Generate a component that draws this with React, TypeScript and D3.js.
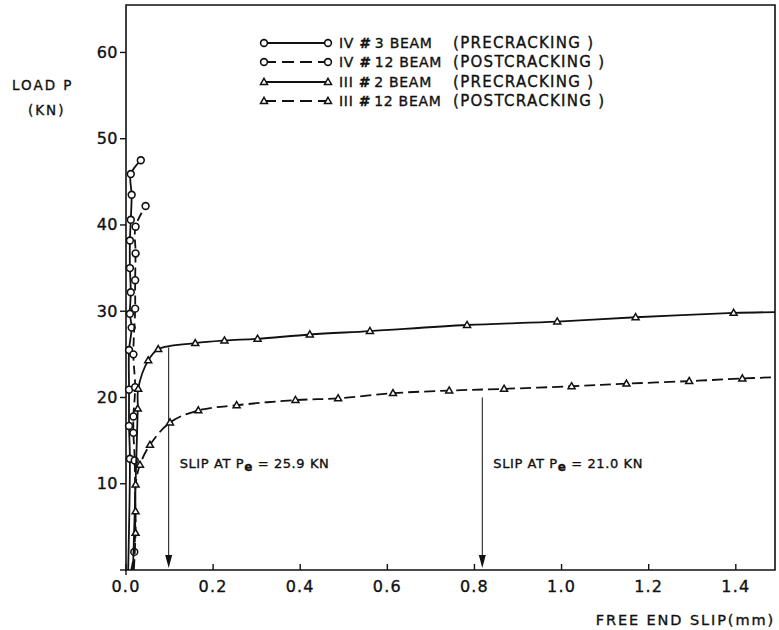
import React from "react";
import * as d3 from "d3";

// ---- data ----
const xTicks = [0, 0.2, 0.4, 0.6, 0.8, 1.0, 1.2, 1.4];
const yTicks = [0, 10, 20, 30, 40, 50, 60];

const iv3Slip = [0.005, 0.009, 0.007, 0.007, 0.007, 0.013, 0.009, 0.011, 0.009, 0.009, 0.011, 0.013, 0.011, 0.034];
const iv3Load = [0, 12.9, 16.7, 20.9, 25.5, 28.1, 29.7, 32.2, 35.0, 38.2, 40.6, 43.5, 45.9, 47.5];

const iv12Slip = [0.012, 0.019, 0.02, 0.017, 0.017, 0.021, 0.017, 0.021, 0.021, 0.022, 0.022, 0.045];
const iv12Load = [0, 2.1, 12.7, 15.9, 17.8, 21.2, 25.0, 30.3, 33.6, 36.7, 39.8, 42.2];

const iii2Slip = [0.016, 0.027, 0.028, 0.051, 0.074, 0.159, 0.226, 0.302, 0.422, 0.56, 0.783, 0.99, 1.17, 1.395, 1.49];
const iii2Load = [0, 18.7, 21.0, 24.3, 25.6, 26.3, 26.6, 26.8, 27.3, 27.7, 28.4, 28.8, 29.3, 29.8, 29.9];

const iii12Slip = [0.018, 0.022, 0.022, 0.022, 0.032, 0.055, 0.101, 0.166, 0.254, 0.389, 0.487, 0.613, 0.742, 0.868, 1.023, 1.149, 1.293, 1.415, 1.49];
const iii12Load = [0, 4.3, 6.8, 9.9, 12.2, 14.5, 17.1, 18.5, 19.1, 19.7, 19.9, 20.5, 20.8, 21.0, 21.3, 21.6, 21.9, 22.2, 22.35];

const legendBeams = ["IV # 3 BEAM", "IV # 12 BEAM", "III # 2 BEAM", "III # 12 BEAM"];
const legendStates = ["(PRECRACKING )", "(POSTCRACKING )", "(PRECRACKING )", "(POSTCRACKING )"];

const arrowSlip = [0.098, 0.818];
const arrowTopLoad = [25.8, 20.0];
const arrowPe = ["25.9", "21.0"];

// ---- layout ----
const W = 779;
const H = 630;
const x = d3.scaleLinear().domain([0, 1.49]).range([126, 775]);
const y = d3.scaleLinear().domain([0, 65.5]).range([570, 5]);

const FONT = "'DejaVu Sans', sans-serif";
const INK = "#111";
const TS = { stroke: INK, strokeWidth: 0.35 } as const;

type Pt = [number, number];
const zip = (a: number[], b: number[]): Pt[] => a.map((v, i) => [v, b[i]]);

const series = [
  { pts: zip(iv3Slip, iv3Load), marker: "circle", dash: null as string | null },
  { pts: zip(iv12Slip, iv12Load), marker: "circle", dash: "9,5" },
  { pts: zip(iii2Slip, iii2Load), marker: "triangle", dash: null },
  { pts: zip(iii12Slip, iii12Load), marker: "triangle", dash: "11,5" },
];

const line = d3
  .line<Pt>()
  .x((d) => x(d[0]))
  .y((d) => y(d[1]))
  .curve(d3.curveCatmullRom.alpha(0.5));

function Marker({ kind, cx, cy }: { kind: string; cx: number; cy: number }) {
  if (kind === "circle") {
    return <circle cx={cx} cy={cy} r={3.4} fill="#fff" stroke={INK} strokeWidth={1.6} />;
  }
  const s = 7;
  const h = s * 0.866;
  const p = `M${cx},${cy - h * 0.6} L${cx + s / 2},${cy + h * 0.4} L${cx - s / 2},${cy + h * 0.4} Z`;
  return <path d={p} fill="#fff" stroke={INK} strokeWidth={1.5} />;
}

function BeamText({ text, xPos, yPos }: { text: string; xPos: number; yPos: number }) {
  const [a, b] = text.split("#");
  return (
    <text x={xPos} y={yPos} fontFamily={FONT} fontSize={14} fill={INK} {...TS} letterSpacing={0.7} dominantBaseline="central">
      <tspan>{a}</tspan>
      <tspan fontWeight="bold" fontStyle="italic">#</tspan>
      <tspan>{b}</tspan>
    </text>
  );
}

export default function App() {
  const legendY = [43, 62, 82, 101];
  return (
    <svg width={W} height={H} style={{ position: "absolute", left: 0, top: 0, background: "#fff" }}>
      <rect x={0} y={0} width={W} height={H} fill="#fff" />
      {/* frame */}
      <path
        d={`M${x(0)},${y(0)} L${x(0)},${y(65.5)} L${x(1.49)},${y(65.5)} L${x(1.49)},${y(0)} Z`}
        fill="none"
        stroke={INK}
        strokeWidth={1.6}
      />
      {/* y ticks */}
      {yTicks.map((t) => (
        <g key={"yt" + t}>
          <line x1={x(0) - 6} x2={x(0)} y1={y(t)} y2={y(t)} stroke={INK} strokeWidth={1.4} />
          {t > 0 && (
            <text
              x={x(0) - 8}
              y={y(t)}
              textAnchor="end"
              dominantBaseline="central"
              fontFamily={FONT}
              fontSize={16}
              fill={INK}
              {...TS}
              letterSpacing={0.5}
            >
              {t}
            </text>
          )}
        </g>
      ))}
      {/* x ticks */}
      {xTicks.map((t) => (
        <g key={"xt" + t}>
          <line x1={x(t)} x2={x(t)} y1={y(0) - 6} y2={y(0) + (t === 0 ? 5 : 0)} stroke={INK} strokeWidth={1.4} />
          <text
            x={x(t)}
            y={y(0) + 16}
            textAnchor="middle"
            dominantBaseline="central"
            fontFamily={FONT}
            fontSize={16}
            fill={INK}
            {...TS}
            letterSpacing={1.2}
          >
            {t.toFixed(1)}
          </text>
        </g>
      ))}
      {/* axis titles */}
      <text x={12} y={85} fontFamily={FONT} fontSize={13.5} fill={INK} {...TS} letterSpacing={2} dominantBaseline="central">
        LOAD P
      </text>
      <text x={28} y={110} fontFamily={FONT} fontSize={13.5} fill={INK} {...TS} letterSpacing={2} dominantBaseline="central">
        (KN)
      </text>
      <text
        x={775}
        y={620}
        textAnchor="end"
        fontFamily={FONT}
        fontSize={14.5}
        fill={INK}
        {...TS}
        letterSpacing={1.9}
        dominantBaseline="central"
      >
        FREE END SLIP(mm)
      </text>

      {/* arrows + annotations */}
      {arrowSlip.map((s, i) => (
        <g key={"ar" + i}>
          <line x1={x(s)} x2={x(s)} y1={y(arrowTopLoad[i])} y2={y(0) - 12} stroke={INK} strokeWidth={1} />
          <path
            d={`M${x(s) - 3.5},${y(0) - 15} L${x(s) + 3.5},${y(0) - 15} L${x(s)},${y(0) - 2} Z`}
            fill={INK}
          />
          <text x={x(s) + 11} y={463} fontFamily={FONT} fontSize={13} fill={INK} {...TS} letterSpacing={0.6} dominantBaseline="central">
            <tspan>SLIP AT P</tspan>
            <tspan fontSize={12} dy={4} fontWeight="bold">e</tspan>
            <tspan dy={-4}>{` = ${arrowPe[i]} KN`}</tspan>
          </text>
        </g>
      ))}

      {/* series */}
      {series.map((s, i) => (
        <g key={"s" + i}>
          <path
            d={line(s.pts) || ""}
            fill="none"
            stroke={INK}
            strokeWidth={1.8}
            strokeDasharray={s.dash || undefined}
          />
          {s.pts
            .filter((p) => p[1] > 0 && p[0] < 1.45)
            .map((p, j) => (
              <Marker key={j} kind={s.marker} cx={x(p[0])} cy={y(p[1])} />
            ))}
        </g>
      ))}

      {/* legend */}
      {legendBeams.map((b, i) => {
        const s = series[i];
        const ly = legendY[i];
        return (
          <g key={"lg" + i}>
            <line
              x1={264}
              x2={328}
              y1={ly}
              y2={ly}
              stroke={INK}
              strokeWidth={1.8}
              strokeDasharray={s.dash ? "12,6" : undefined}
            />
            <Marker kind={s.marker} cx={264} cy={ly} />
            <Marker kind={s.marker} cx={328} cy={ly} />
            <BeamText text={b} xPos={339} yPos={ly} />
            <text x={453} y={ly} fontFamily={FONT} fontSize={15} fill={INK} {...TS} letterSpacing={1.3} dominantBaseline="central">
              {legendStates[i]}
            </text>
          </g>
        );
      })}
    </svg>
  );
}
